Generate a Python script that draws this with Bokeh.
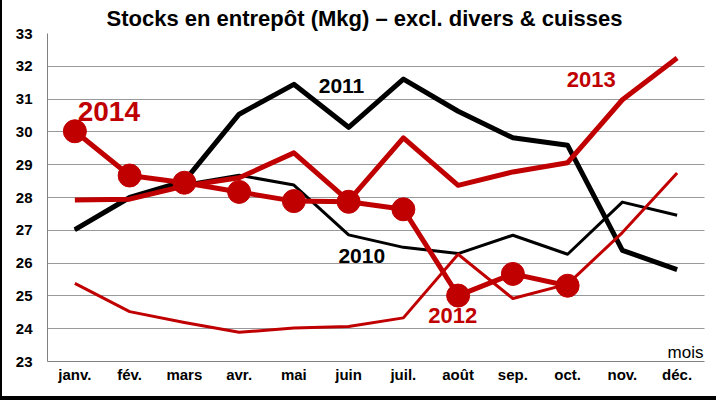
from bokeh.plotting import figure
from bokeh.models import Range1d, FixedTicker, Label
from bokeh.embed import file_html
from bokeh.resources import INLINE

months = ["janv.", "fév.", "mars", "avr.", "mai", "juin", "juil.", "août", "sep.", "oct.", "nov.", "déc."]
y_ticks = [23, 24, 25, 26, 27, 28, 29, 30, 31, 32, 33]

s2010 = [27.0, 28.0, 28.4, 28.68, 28.38, 26.86, 26.48, 26.29, 26.85, 26.27, 27.86, 27.46]
s2011 = [27.02, 28.0, 28.5, 30.54, 31.45, 30.14, 31.61, 30.63, 29.82, 29.59, 26.39, 25.8]
s2012 = [25.38, 24.52, 24.19, 23.89, 24.02, 24.07, 24.33, 26.27, 24.92, 25.36, 26.93, 28.75]
s2013 = [27.92, 27.95, 28.35, 28.6, 29.36, 27.9, 29.82, 28.37, 28.78, 29.06, 30.98, 32.25]
s2014 = [30.02, 28.67, 28.45, 28.17, 27.89, 27.87, 27.64, 25.01, 25.67, 25.31]

title = "Stocks en entrepôt (Mkg) – excl. divers & cuisses"
FONT = "Liberation Sans"
RED = "#C00000"
BLACK = "#000000"

xs = list(range(1, len(months) + 1))

p = figure(width=716, height=400, output_backend="svg", toolbar_location=None,
           x_range=Range1d(0.5, 12.5), y_range=Range1d(23, 33),
           min_border_left=45, min_border_right=14, min_border_top=32, min_border_bottom=39,
           styles={"border-left": "2px solid black", "border-bottom": "4px solid black"})
p.outline_line_color = None
p.background_fill_color = "white"
p.border_fill_color = "white"

p.title.text = title
p.title.align = "left"
p.title.offset = 59
p.title.text_font = FONT
p.title.text_font_size = "22px"
p.title.text_font_style = "bold"
p.title.text_color = BLACK
p.title.standoff = 6

p.xgrid.grid_line_color = None
p.ygrid.grid_line_color = BLACK
p.ygrid.grid_line_dash = "1 1"
p.ygrid.grid_line_alpha = 0.8
p.ygrid.ticker = FixedTicker(ticks=y_ticks)

p.yaxis.ticker = FixedTicker(ticks=y_ticks)
p.xaxis.ticker = FixedTicker(ticks=xs)
p.xaxis.major_label_overrides = {x: m for x, m in zip(xs, months)}
for ax in (p.xaxis[0], p.yaxis[0]):
    ax.axis_line_color = "#808080"
    ax.axis_line_width = 1
    ax.major_tick_line_color = None
    ax.minor_tick_line_color = None
    ax.major_tick_out = 0
    ax.major_tick_in = 0
    ax.major_label_text_font = FONT
    ax.major_label_text_font_style = "bold"
    ax.major_label_text_font_size = "15px"
    ax.major_label_text_color = BLACK
p.yaxis.major_label_standoff = 15
p.xaxis.major_label_standoff = 4

p.line(xs, s2010, line_color=BLACK, line_width=3, line_join="round")
p.line(xs, s2011, line_color=BLACK, line_width=5, line_join="round")
p.line(xs, s2012, line_color=RED, line_width=3, line_join="round")
p.line(xs, s2013, line_color=RED, line_width=5, line_join="round")
x14 = xs[:len(s2014)]
p.line(x14, s2014, line_color=RED, line_width=5, line_join="round")
p.scatter(x14, s2014, size=23, fill_color=RED, line_color=RED)

def lab(x, y, t, color, size, align="center", baseline="middle", style="bold"):
    p.add_layout(Label(x=x, y=y, text=t, text_color=color, text_font=FONT,
                       text_font_size=size, text_font_style=style,
                       text_align=align, text_baseline=baseline))

lab(5.87, 31.39, "2011", BLACK, "21px")
lab(6.24, 26.22, "2010", BLACK, "21px")
lab(1.62, 30.63, "2014", RED, "28px")
lab(10.43, 31.6, "2013", RED, "22px")
lab(7.9, 24.4, "2012", RED, "22px")
lab(12.48, 23.27, "mois", BLACK, "17px", align="right", baseline="middle", style="normal")

open("out.html", "w").write(file_html(p, INLINE))
